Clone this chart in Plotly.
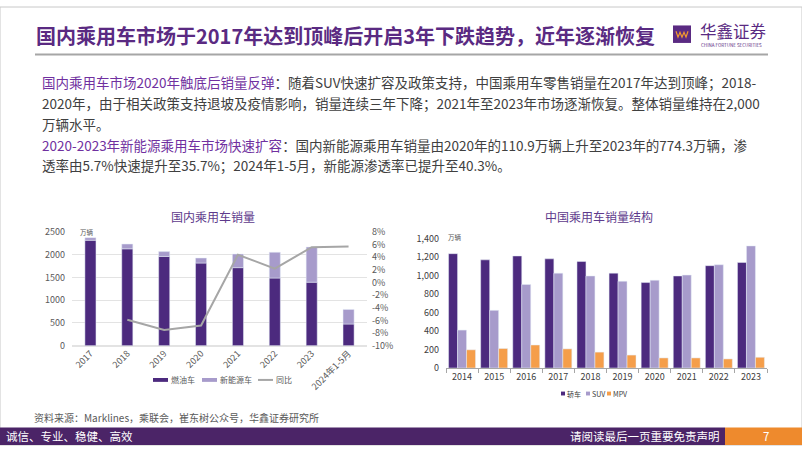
import plotly.graph_objects as go

W, H = 802, 451
FONT = "Noto Sans CJK SC"

# ---------------- data ----------------
years_left = ["2017", "2018", "2019", "2020", "2021", "2022", "2023", "2024年1-5月"]
fuel_sales = [2318, 2130, 1963, 1817, 1716, 1487, 1396, 475]
nev_sales = [58, 105, 106, 111, 299, 567, 774, 322]
yoy_pct = [None, -5.9, -7.5, -6.8, 4.4, 2.2, 5.6, 5.7]
left_y_ticks = [0, 500, 1000, 1500, 2000, 2500]
right_y_ticks = [-10, -8, -6, -4, -2, 0, 2, 4, 6, 8]
right_y_labels = ["-10%", "-8%", "-6%", "-4%", "-2%", "0%", "2%", "4%", "6%", "8%"]

years_right = ["2014", "2015", "2016", "2017", "2018", "2019", "2020", "2021", "2022", "2023"]
sedan = [1239, 1172, 1214, 1183, 1154, 1028, 926, 997, 1109, 1144]
suv = [411, 625, 905, 1028, 997, 940, 951, 1007, 1119, 1323]
mpv = [197, 211, 249, 207, 172, 140, 109, 109, 98, 116]
struct_ticks = [0, 200, 400, 600, 800, 1000, 1200, 1400]

DARK = "#4C2A7E"
LIGHT = "#A79BCB"
ORANGE = "#F59E4A"
GRAY_LINE = "#A6A6A6"
PURPLE = "#5A2A82"
ACCENT = "#7030A0"
TEXT = "#404040"


def px(x):
    return x / W


def py(y):
    return 1 - y / H


fig = go.Figure()

# ---- left chart: stacked bars + YoY line ----
fig.add_trace(go.Bar(x=years_left, y=fuel_sales, name="燃油车", marker_color=DARK,
                     width=0.3, offset=-0.15, xaxis="x", yaxis="y", showlegend=False))
fig.add_trace(go.Bar(x=years_left, y=nev_sales, base=fuel_sales, name="新能源车", marker_color=LIGHT,
                     width=0.3, offset=-0.15, xaxis="x", yaxis="y", showlegend=False))
fig.add_trace(go.Scatter(x=years_left, y=yoy_pct, name="同比", mode="lines",
                         line=dict(color=GRAY_LINE, width=2), xaxis="x", yaxis="y2",
                         showlegend=False, connectgaps=False))

# ---- right chart: grouped bars ----
for vals, nm, col, og in [(sedan, "轿车", DARK, "a"), (suv, "SUV", LIGHT, "b"), (mpv, "MPV", ORANGE, "c")]:
    fig.add_trace(go.Bar(x=years_right, y=vals, name=nm, marker_color=col, offsetgroup=og,
                         xaxis="x3", yaxis="y3", showlegend=False))

tickfont = dict(family=FONT, size=9, color="#595959")

fig.update_layout(
    width=W, height=H,
    margin=dict(l=0, r=0, t=0, b=0),
    paper_bgcolor="white", plot_bgcolor="white",
    barmode="group", bargap=0.16, bargroupgap=0,
    font=dict(family=FONT),
    xaxis=dict(domain=[px(72), px(367)], anchor="y", type="category",
               tickangle=-45, tickfont=tickfont, showgrid=False, showline=False,
               ticks="", fixedrange=True),
    yaxis=dict(domain=[py(348.7), py(231.7)], anchor="x", range=[0, 2500],
               tickvals=left_y_ticks, tickfont=tickfont, showgrid=True,
               gridcolor="#E3E3E3", gridwidth=1, zeroline=True, zerolinecolor="#E3E3E3",
               showline=False, ticks="", ticklabelstandoff=6),
    yaxis2=dict(overlaying="y", side="right", anchor="x", range=[-10, 8],
                tickvals=right_y_ticks, ticktext=right_y_labels, tickfont=tickfont,
                showgrid=False, zeroline=False, showline=False, ticks="", ticklabelstandoff=4),
    xaxis3=dict(domain=[px(446), px(767)], anchor="y3", type="category",
                tickfont=dict(family=FONT, size=9, color=TEXT), showgrid=False,
                showline=True, linecolor=GRAY_LINE, linewidth=1,
                ticks="outside", tickson="boundaries", ticklen=4, tickcolor=GRAY_LINE),
    yaxis3=dict(domain=[py(371.7), py(238.7)], anchor="x3", range=[0, 1400],
                tickvals=struct_ticks, tickformat=",", tickfont=dict(family=FONT, size=9, color=TEXT),
                showgrid=False, zeroline=False, showline=False, ticks="", ticklabelstandoff=6),
)

shapes = []
ann = []


def text(x, y, s, size, color, xanchor="left", bold=False, yanchor="middle"):
    if bold:
        s = "<b>" + s + "</b>"
    ann.append(dict(x=px(x), y=py(y), xref="paper", yref="paper", text=s, showarrow=False,
                    xanchor=xanchor, yanchor=yanchor, align="left", borderpad=0,
                    font=dict(family=FONT, size=size, color=color)))


# slide border
shapes.append(dict(type="rect", xref="paper", yref="paper", x0=0, x1=1, y0=0, y1=1,
                   line=dict(color="#C8C8C8", width=1), fillcolor="rgba(0,0,0,0)", layer="above"))

# header
text(35, 29, "国内乘用车市场于2017年达到顶峰后开启3年下跌趋势，近年逐渐恢复", 20, PURPLE, bold=True)
shapes.append(dict(type="line", xref="paper", yref="paper", x0=px(35), x1=px(768), y0=py(49), y1=py(49),
                   line=dict(color="#A6A6A6", width=2)))
# logo
shapes.append(dict(type="rect", xref="paper", yref="paper", x0=px(673), x1=px(691), y0=py(37), y1=py(19),
                   fillcolor=PURPLE, line=dict(width=0)))
shapes.append(dict(type="path", xref="paper", yref="paper",
                   path=f"M {px(676)} {py(25)} L {px(678)} {py(31)} L {px(680)} {py(26)} L {px(682)} {py(31)} "
                        f"L {px(684)} {py(26)} L {px(686)} {py(31)} L {px(688)} {py(25)}",
                   line=dict(color="#F39A2E", width=1.2)))
text(699, 25, "华鑫证券", 16.5, PURPLE)
text(700, 39, "CHINA FORTUNE SECURITIES", 4.5, PURPLE)

# body text
acc = lambda s: f"<span style='color:{ACCENT}'>{s}</span>"
text(41, 77, acc("国内乘用车市场2020年触底后销量反弹") + "：随着SUV快速扩容及政策支持，中国乘用车零售销量在2017年达到顶峰；2018-", 13.5, TEXT)
text(41, 98.5, "2020年，由于相关政策支持退坡及疫情影响，销量连续三年下降；2021年至2023年市场逐渐恢复。整体销量维持在2,000", 13.5, TEXT)
text(41, 120, "万辆水平。", 13.5, TEXT)
text(41, 142, acc("2020-2023年新能源乘用车市场快速扩容") + "：国内新能源乘用车销量由2020年的110.9万辆上升至2023年的774.3万辆，渗", 13.5, TEXT)
text(41, 163, "透率由5.7%快速提升至35.7%；2024年1-5月，新能源渗透率已提升至40.3%。", 13.5, TEXT)

# chart titles
text(213, 216, "国内乘用车销量", 12, "#5E3A8C", xanchor="center")
text(599, 216, "中国乘用车销量结构", 12, "#5E3A8C", xanchor="center")
text(79, 232, "万辆", 6.5, "#595959")
text(447, 237, "万辆", 6.5, "#595959")

# left legend
shapes.append(dict(type="rect", xref="paper", yref="paper", x0=px(153), x1=px(168), y0=py(386), y1=py(382),
                   fillcolor=DARK, line=dict(width=0)))
text(170, 384, "燃油车", 8, "#595959")
shapes.append(dict(type="rect", xref="paper", yref="paper", x0=px(202), x1=px(217), y0=py(386), y1=py(382),
                   fillcolor=LIGHT, line=dict(width=0)))
text(219, 384, "新能源车", 8, "#595959")
shapes.append(dict(type="line", xref="paper", yref="paper", x0=px(258), x1=px(273), y0=py(384), y1=py(384),
                   line=dict(color=GRAY_LINE, width=2)))
text(275, 384, "同比", 8, "#595959")

# right legend
for x0, col, lab in [(561, DARK, "轿车"), (586, LIGHT, "SUV"), (607, ORANGE, "MPV")]:
    shapes.append(dict(type="rect", xref="paper", yref="paper", x0=px(x0), x1=px(x0 + 4), y0=py(400), y1=py(396),
                       fillcolor=col, line=dict(width=0)))
    text(x0 + 5, 398, lab, 7, "#404040")

# source
text(33, 423, "资料来源：Marklines，乘联会，崔东树公众号，华鑫证券研究所", 10, "#595959")

# footer
shapes.append(dict(type="rect", xref="paper", yref="paper", x0=0, x1=px(725), y0=0, y1=py(433),
                   fillcolor="#4B2467", line=dict(width=0)))
shapes.append(dict(type="rect", xref="paper", yref="paper", x0=px(725), x1=1, y0=0, y1=py(433),
                   fillcolor="#EE8A2D", line=dict(width=0)))
text(5, 441.5, "诚信、专业、稳健、高效", 11.5, "white")
text(721, 441.5, "请阅读最后一页重要免责声明", 11.5, "white", xanchor="right")
text(766, 441.5, "7", 11.5, "white", xanchor="center")

fig.update_layout(shapes=shapes, annotations=ann)
fig.write_html("out.html", config={"displayModeBar": False},
               post_script="document.body.style.margin='0';document.body.style.padding='0';"
                           "document.body.style.overflow='hidden';")
